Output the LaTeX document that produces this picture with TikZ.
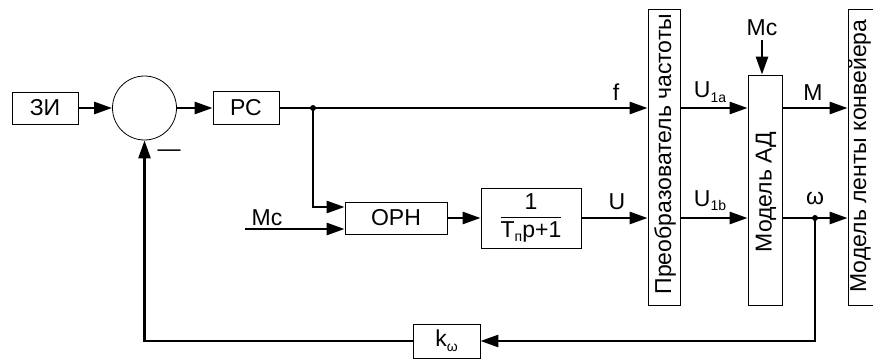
\documentclass[tikz,border=0pt]{standalone}
\usepackage{fontspec}
\setmainfont{Liberation Sans}
\usetikzlibrary{arrows.meta,calc}
\newcommand\subsc[1]{\raisebox{-0.2em}{\fontsize{14}{14}\selectfont #1}}
\begin{document}
\begin{tikzpicture}[x=1pt,y=-1pt,
  every node/.style={font=\fontsize{23}{27}\selectfont, inner sep=0pt},
  blk/.style={draw, line width=0.8pt, rectangle},
  wire/.style={line width=2.6pt},
  arr/.style={wire, -{Triangle[length=18pt,width=12pt]}},
  dot/.style={circle, fill, minimum size=6pt, inner sep=0pt},
  lbl/.style={anchor=base}]
\useasboundingbox (0,0) rectangle (873,361);
\clip (0,0) rectangle (873,361);
% blocks
\node[blk, minimum width=66pt, minimum height=32pt] (zi) at (45,108) {ЗИ};
\node[draw, line width=0.8pt, circle, minimum size=64pt] (circ) at (144.5,108) {};
\node[blk, minimum width=66pt, minimum height=33pt] (rc) at (246,108) {РС};
\node[blk, minimum width=102pt, minimum height=32pt] (orn) at (396,218) {ОРН};
\node[blk, minimum width=100pt, minimum height=60pt] (tf) at (531,218)
  {\begin{tabular}{@{}c@{}}1\\[-1pt]\hline\rule{0pt}{20pt}T\subsc{п}p+1\end{tabular}};
\node[blk, minimum width=32pt, minimum height=296pt] (pch) at (664,157) {};
\node[rotate=90] (pchT) at (665,154) {Преобразователь частоты};
\node[blk, minimum width=34pt, minimum height=230pt] (ad) at (765,190) {};
\node[rotate=90] (adT) at (766,192) {Модель АД};
\node[blk, minimum width=32pt, minimum height=296pt] (mlk) at (864,157) {};
\node[rotate=90] (mlkT) at (860,156) {Модель ленты конвейера};
\node[blk, minimum width=67pt, minimum height=34pt] (kw) at (446.5,341) {k\subsc{ω}};
% labels and points
\coordinate (j1) at (313,108);
\coordinate (j2) at (815,218);
\coordinate (mcin) at (245,229);
\node[lbl] (fL) at (616,100) {f};
\node[lbl] (u1aL) at (710,98) {U\subsc{1a}};
\node[lbl] (mL) at (813,100) {M};
\node[lbl] (u1bL) at (710,206) {U\subsc{1b}};
\node[lbl] (omL) at (815,204) {ω};
\node[lbl] (uL) at (617,209) {U};
\node[lbl] (mcL) at (267,225) {Мс};
\node (mcT) at (762,28) {Мс};
\node (minus) at (169,153) {—};
% connectors
\draw[arr] (zi.east) -- (circ.west);
\draw[arr] (circ.east) -- (rc.west);
\draw[arr] (rc.east) -- (pch.west |- rc.east);
\draw[arr] (j1) |- ($(orn.west)+(0,-11)$);
\draw[arr] (mcin) -- (orn.west |- mcin);
\draw[arr] (orn.east) -- (tf.west);
\draw[arr] (tf.east) -- (pch.west |- tf.east);
\draw[arr] (pch.east |- rc.east) -- (ad.west |- rc.east);
\draw[arr] (pch.east |- tf.east) -- (ad.west |- tf.east);
\draw[arr] ($(mcT.south)+(0,4)$) -- (mcT.south |- ad.north);
\draw[arr] (ad.east |- rc.east) -- (mlk.west |- rc.east);
\draw[arr] (ad.east |- tf.east) -- (mlk.west |- tf.east);
\draw[arr] (j2) |- (kw.east);
\draw[arr] (kw.west) -| (circ.south);
\node[dot] (d1) at (j1) {};
\node[dot] (d2) at (j2) {};
\end{tikzpicture}
\end{document}
